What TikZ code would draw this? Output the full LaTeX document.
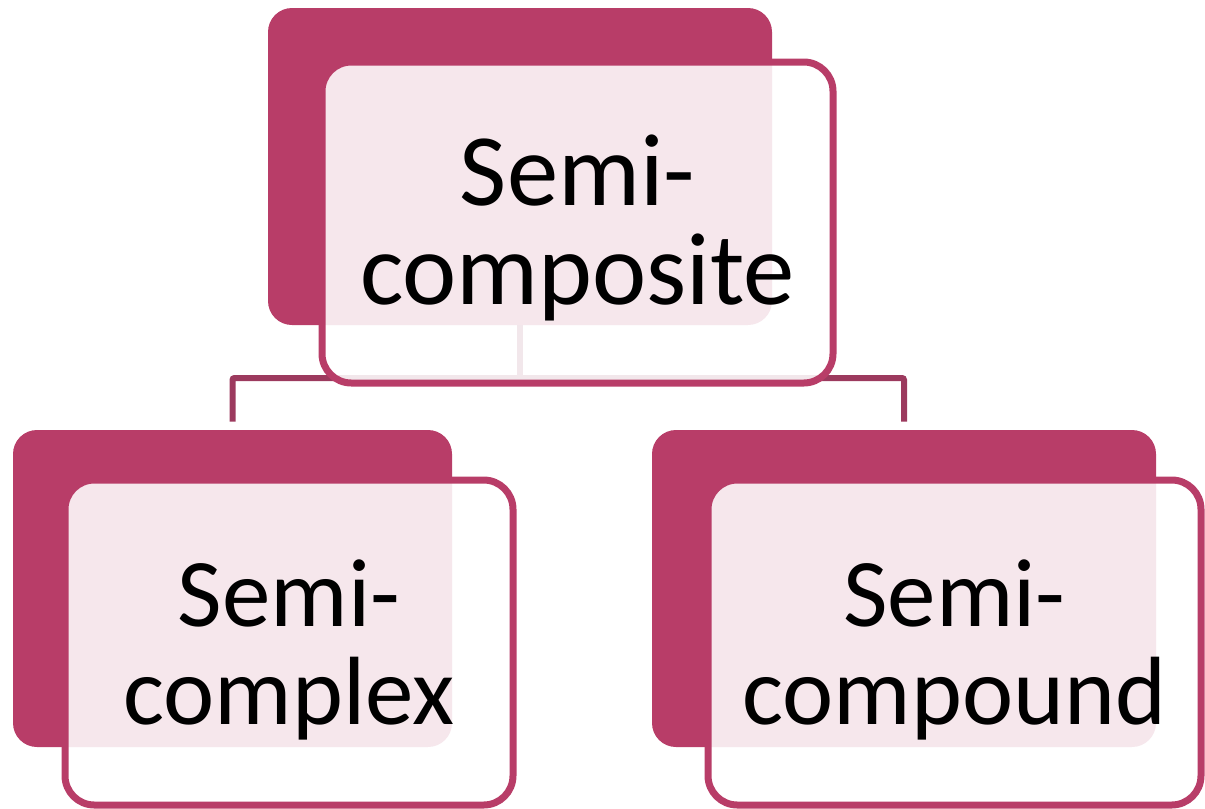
\documentclass[tikz,border=0pt]{standalone}
\usepackage{fontspec}
\setmainfont{Carlito}
\definecolor{berry}{HTML}{B83D68}
\definecolor{berrydark}{HTML}{9C3A5E}
\tikzset{
  backbox/.style={draw=none, fill=berry, rounded corners=18pt, minimum height=237.75pt, inner sep=0pt},
  frontbox/.style={draw=berry, line width=5.25pt, fill=white, fill opacity=0.88,
    rounded corners=22pt, inner sep=0pt},
  labeltext/.style={align=center, inner sep=0pt, text=black},
  conn/.style={draw=berrydark, line width=4.5pt, rounded corners=1.5pt},
  toptext/.style={font={\fontsize{77pt}{74.25pt}\selectfont}},
  childtext/.style={font={\fontsize{72.75pt}{73.5pt}\selectfont}}
}
\begin{document}
\begin{tikzpicture}[x=0.75pt,y=-0.75pt]
\useasboundingbox (0,0) rectangle (1205,808);
% back boxes
\node[backbox, minimum width=378pt] (tb) at (520,166.5) {};
\node[backbox, minimum width=329.25pt] (lb) at (232.5,588.5) {};
\node[backbox, minimum width=378pt] (rb) at (904,588.5) {};
% connectors
\coordinate (j) at (520,378);
\draw[conn] (tb.south) -- (j);
\draw[conn, shorten >=6pt] (j) -| (lb.north);
\draw[conn, shorten >=6pt] (j) -| (rb.north);
% front boxes
\node[frontbox, minimum width=383.25pt, minimum height=240.75pt] (tf) at (577.5,222.5) {};
\node[frontbox, minimum width=336pt, minimum height=243.75pt] (lf) at (289,642.5) {};
\node[frontbox, minimum width=369.75pt, minimum height=243.75pt] (rf) at (954.5,642.5) {};
% labels
\node[labeltext, toptext] (tft) at ([yshift=-3.75pt]tf.center) {Semi-\\composite};
\node[labeltext, childtext] (lft) at ([yshift=-5.25pt]lf.center) {Semi-\\complex};
\node[labeltext, childtext] (rft) at ([yshift=-5.25pt]rf.center) {Semi-\\compound};
\end{tikzpicture}
\end{document}
